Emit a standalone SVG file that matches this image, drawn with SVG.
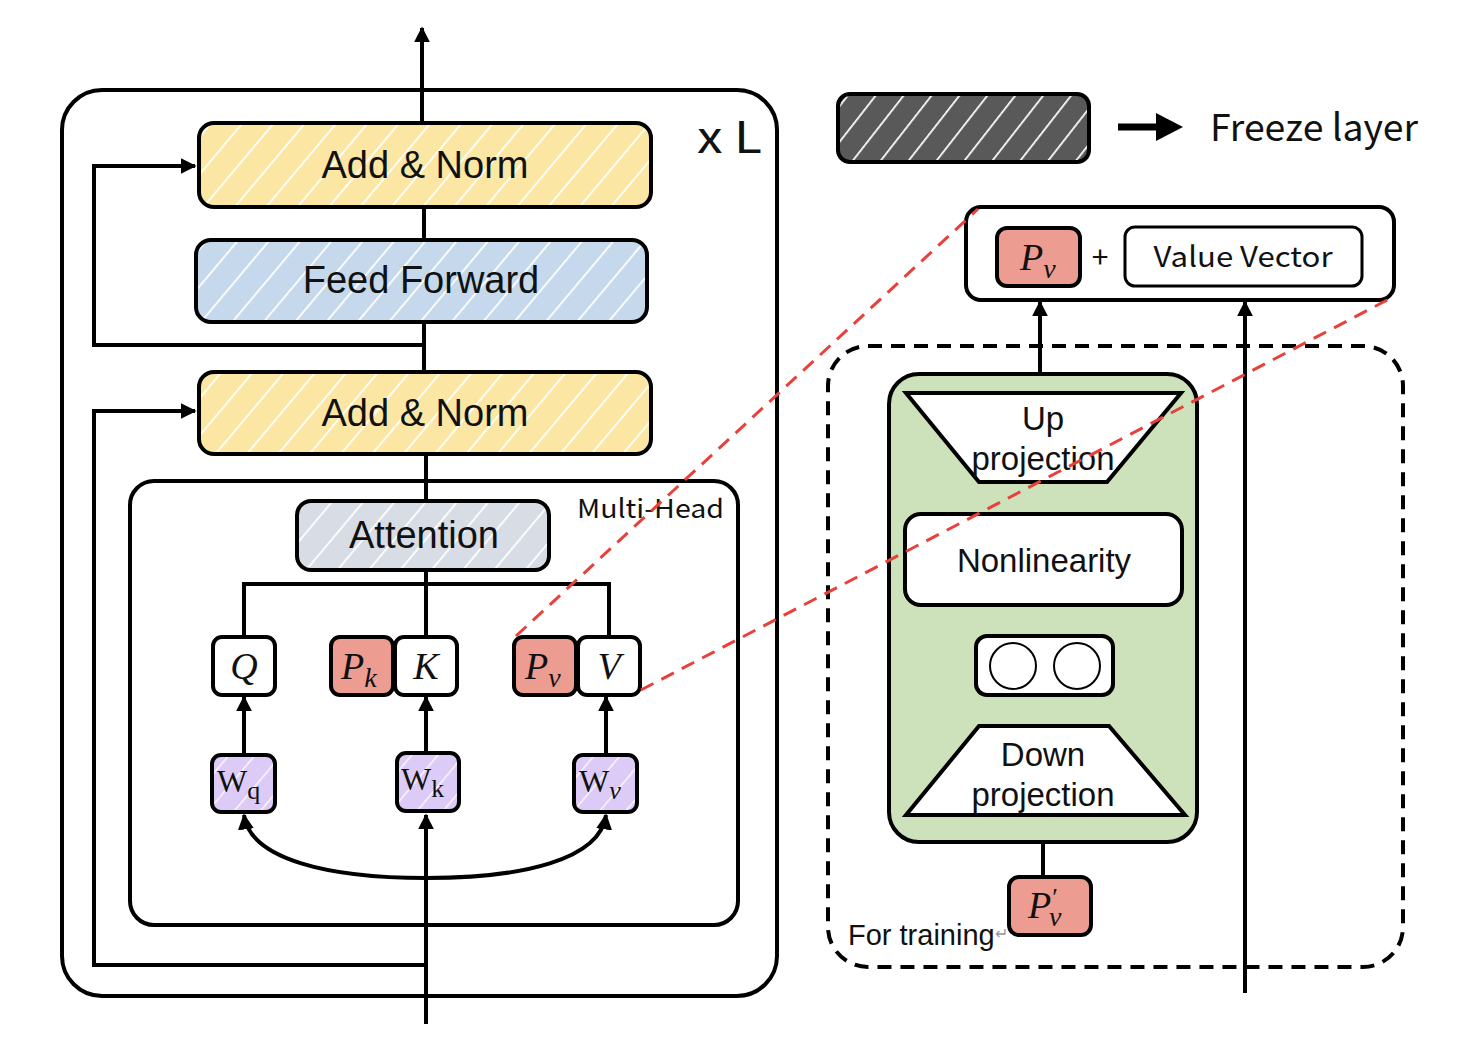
<svg xmlns="http://www.w3.org/2000/svg" width="1478" height="1062" viewBox="0 0 1478 1062">
<style>
.box{stroke:#000;stroke-width:4}
.ln{stroke:#000;stroke-width:4;fill:none}
.sans{font-family:"Liberation Sans",Arial,sans-serif;fill:#111}
.kr{font-family:"Noto Sans CJK KR","Noto Sans",sans-serif;fill:#111}
.math{font-family:"Liberation Serif","DejaVu Serif",serif;font-style:italic;fill:#111}
.up{font-family:"Liberation Serif","DejaVu Serif",serif;fill:#111}
.red{stroke:#e8413b;stroke-width:3;stroke-dasharray:14 9;fill:none}
</style>
<defs>
<pattern id="hatch" width="24" height="24" patternUnits="userSpaceOnUse" patternTransform="rotate(40)">
<line x1="0" y1="0" x2="0" y2="24" stroke="#fff" stroke-width="3.5"/>
</pattern>
<pattern id="hatchL" width="22" height="22" patternUnits="userSpaceOnUse" patternTransform="rotate(38)">
<line x1="0" y1="0" x2="0" y2="22" stroke="#fff" stroke-width="3.5"/>
</pattern>
<pattern id="hatchS" width="20" height="20" patternUnits="userSpaceOnUse" patternTransform="rotate(40)">
<line x1="0" y1="0" x2="0" y2="20" stroke="#fff" stroke-width="3" stroke-opacity="0.85"/>
</pattern>
<marker id="arr" viewBox="0 0 10 10" markerWidth="16" markerHeight="16" markerUnits="userSpaceOnUse" refX="9" refY="5" orient="auto">
<path d="M0,0 L10,5 L0,10 Z" fill="#000"/>
</marker>
</defs>

<!-- outer layer box -->
<g id="layer-box">
<rect x="62" y="90" width="715" height="906" rx="40" class="ln"/>
<text x="697" y="153" class="kr" font-size="44" textLength="65" lengthAdjust="spacingAndGlyphs">x L</text>
</g>

<g id="multihead-box">
<rect x="130" y="481" width="608" height="444" rx="24" class="ln"/>
<text x="577" y="518" class="kr" font-size="26" textLength="147" lengthAdjust="spacingAndGlyphs">Multi-Head</text>
</g>

<g id="connectors">
<line x1="422" y1="123" x2="422" y2="28" class="ln" marker-end="url(#arr)"/>
<line x1="424" y1="207" x2="424" y2="240" class="ln"/>
<line x1="424" y1="322" x2="424" y2="372" class="ln"/>
<polyline points="424,345 94,345 94,166 195,166" class="ln" marker-end="url(#arr)"/>
<line x1="426" y1="454" x2="426" y2="501" class="ln"/>
<polyline points="428,965 94,965 94,411 195,411" class="ln" marker-end="url(#arr)"/>
<line x1="426" y1="570" x2="426" y2="637" class="ln"/>
<polyline points="244,637 244,584 609,584 609,637" class="ln"/>
<line x1="426" y1="1024" x2="426" y2="815" class="ln" marker-end="url(#arr)"/>
<path d="M426,878 C330,878 250,860 244,815" class="ln" marker-end="url(#arr)"/>
<path d="M426,878 C522,878 600,860 606,815" class="ln" marker-end="url(#arr)"/>
<line x1="244" y1="754" x2="244" y2="697" class="ln" marker-end="url(#arr)"/>
<line x1="426" y1="754" x2="426" y2="697" class="ln" marker-end="url(#arr)"/>
<line x1="606" y1="754" x2="606" y2="697" class="ln" marker-end="url(#arr)"/>
<!-- right side -->
<line x1="1040" y1="392" x2="1040" y2="302" class="ln" marker-end="url(#arr)"/>
<line x1="1245" y1="993" x2="1245" y2="302" class="ln" marker-end="url(#arr)"/>
<line x1="1043" y1="482" x2="1043" y2="514" class="ln"/>
<line x1="1043" y1="605" x2="1043" y2="636" class="ln"/>
<line x1="1043" y1="695" x2="1043" y2="726" class="ln"/>
<line x1="1043" y1="815" x2="1043" y2="877" class="ln"/>
<!-- legend arrow -->
<line x1="1118" y1="127" x2="1160" y2="127" stroke="#000" stroke-width="7"/>
<path d="M1156,113 L1183,127 L1156,141 Z" fill="#000"/>
</g>

<!-- left column nodes -->
<g id="add-norm-top">
<rect x="199" y="123" width="452" height="84" rx="15" fill="#fbe7a3"/>
<rect x="199" y="123" width="452" height="84" rx="15" fill="url(#hatch)" class="box"/>
<text x="425" y="178" class="sans" font-size="38" text-anchor="middle">Add &amp; Norm</text>
</g>
<g id="feed-forward">
<rect x="196" y="240" width="451" height="82" rx="15" fill="#c5d8ec"/>
<rect x="196" y="240" width="451" height="82" rx="15" fill="url(#hatch)" class="box"/>
<text x="421" y="293" class="sans" font-size="38" text-anchor="middle">Feed Forward</text>
</g>
<g id="add-norm-bottom">
<rect x="199" y="372" width="452" height="82" rx="15" fill="#fbe7a3"/>
<rect x="199" y="372" width="452" height="82" rx="15" fill="url(#hatch)" class="box"/>
<text x="425" y="426" class="sans" font-size="38" text-anchor="middle">Add &amp; Norm</text>
</g>
<g id="attention">
<rect x="297" y="501" width="252" height="69" rx="14" fill="#d7dce5"/>
<rect x="297" y="501" width="252" height="69" rx="14" fill="url(#hatch)" class="box"/>
<text x="424" y="548" class="sans" font-size="38" text-anchor="middle">Attention</text>
</g>

<g id="q">
<rect x="213" y="637" width="62" height="58" rx="9" fill="#fff" class="box"/>
<text x="244" y="679" class="math" font-size="38" text-anchor="middle">Q</text>
</g>
<g id="pk">
<rect x="331" y="637" width="62" height="58" rx="9" fill="#ed9c92" class="box"/>
<text x="341" y="679" class="math" font-size="38">P<tspan font-size="28" dy="8">k</tspan></text>
</g>
<g id="k">
<rect x="395" y="637" width="62" height="58" rx="9" fill="#fff" class="box"/>
<text x="426" y="679" class="math" font-size="38" text-anchor="middle">K</text>
</g>
<g id="pv">
<rect x="514" y="637" width="62" height="58" rx="9" fill="#ed9c92" class="box"/>
<text x="525" y="679" class="math" font-size="38">P<tspan font-size="28" dy="8">v</tspan></text>
</g>
<g id="v">
<rect x="578" y="637" width="62" height="58" rx="9" fill="#fff" class="box"/>
<text x="609" y="679" class="math" font-size="38" text-anchor="middle">V</text>
</g>

<g id="wq">
<rect x="212" y="755" width="63" height="57" rx="9" fill="#dccbf6"/>
<rect x="212" y="755" width="63" height="57" rx="9" fill="url(#hatchS)" class="box"/>
<text x="217" y="792" class="up" font-size="32">W<tspan font-size="26" dy="7">q</tspan></text>
</g>
<g id="wk">
<rect x="397" y="753" width="62" height="58" rx="9" fill="#dccbf6"/>
<rect x="397" y="753" width="62" height="58" rx="9" fill="url(#hatchS)" class="box"/>
<text x="401" y="790" class="up" font-size="32">W<tspan font-size="26" dy="7">k</tspan></text>
</g>
<g id="wv">
<rect x="574" y="755" width="63" height="57" rx="9" fill="#dccbf6"/>
<rect x="574" y="755" width="63" height="57" rx="9" fill="url(#hatchS)" class="box"/>
<text x="579" y="792" class="up" font-size="32">W<tspan font-size="26" dy="7" font-style="italic">v</tspan></text>
</g>

<!-- legend -->
<g id="legend">
<rect x="838" y="94" width="251" height="68" rx="12" fill="#595959"/>
<rect x="838" y="94" width="251" height="68" rx="12" fill="url(#hatchL)" class="box"/>
<text x="1210" y="141" class="kr" font-size="37" textLength="208" lengthAdjust="spacingAndGlyphs">Freeze layer</text>
</g>

<!-- right side -->
<g id="training-box">
<rect x="828" y="346" width="575" height="621" rx="40" fill="none" stroke="#000" stroke-width="4" stroke-dasharray="14 9"/>
</g>
<g id="adapter">
<rect x="889" y="374" width="308" height="468" rx="30" fill="#cde1bb" class="box"/>
</g>
<g id="up-projection">
<polygon points="906,393 1181,393 1107,482 979,482" fill="#fff" class="box"/>
<text x="1043" y="430" class="sans" font-size="33" text-anchor="middle">Up</text>
<text x="1043" y="470" class="sans" font-size="33" text-anchor="middle">projection</text>
</g>
<g id="nonlinearity">
<rect x="905" y="514" width="277" height="91" rx="16" fill="#fff" class="box"/>
<text x="1044" y="572" class="sans" font-size="33" text-anchor="middle">Nonlinearity</text>
</g>
<g id="neurons">
<rect x="976" y="636" width="137" height="59" rx="11" fill="#fff" class="box"/>
<circle cx="1013" cy="666" r="23" fill="#fff" stroke="#000" stroke-width="2"/>
<circle cx="1077" cy="666" r="23" fill="#fff" stroke="#000" stroke-width="2"/>
</g>
<g id="down-projection">
<polygon points="979,726 1109,726 1185,815 906,815" fill="#fff" class="box"/>
<text x="1043" y="766" class="sans" font-size="33" text-anchor="middle">Down</text>
<text x="1043" y="806" class="sans" font-size="33" text-anchor="middle">projection</text>
</g>
<g id="pv-prime">
<rect x="1009" y="877" width="82" height="58" rx="10" fill="#ed9c92" class="box"/>
<text x="1028" y="918" class="math" font-size="38">P<tspan font-size="26" dx="1" dy="-12" font-style="normal">′</tspan><tspan font-size="28" dx="-9" dy="20">v</tspan></text>
</g>
<g id="for-training">
<text x="848" y="945" class="sans" font-size="29">For training<tspan fill="#999" font-size="16" dy="-6">↵</tspan></text>
</g>

<g id="output-box">
<rect x="966" y="207" width="428" height="93" rx="15" fill="#fff" class="box"/>
<rect x="997" y="228" width="83" height="58" rx="10" fill="#ed9c92" class="box"/>
<text x="1020" y="270" class="math" font-size="38">P<tspan font-size="28" dy="8">v</tspan></text>
<text x="1100" y="268" class="kr" font-size="30" text-anchor="middle">+</text>
<rect x="1125" y="227" width="237" height="59" rx="10" fill="#fff" stroke="#000" stroke-width="3"/>
<text x="1243" y="267" class="kr" font-size="28" text-anchor="middle" textLength="179" lengthAdjust="spacingAndGlyphs">Value Vector</text>
</g>

<g id="zoom-lines">
<line x1="516" y1="636" x2="978" y2="209" class="red"/>
<line x1="641" y1="690" x2="1393" y2="297" class="red"/>
</g>
</svg>
